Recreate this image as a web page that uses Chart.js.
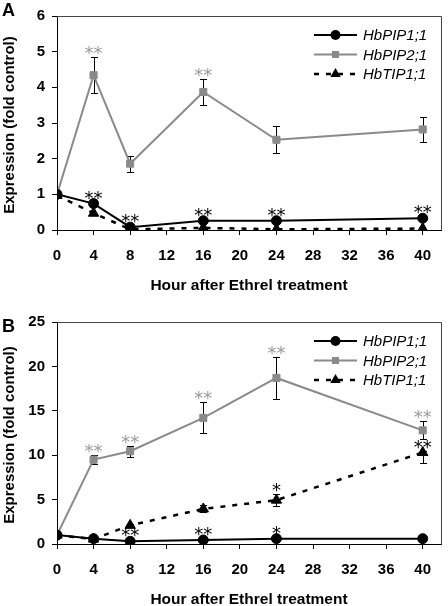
<!DOCTYPE html>
<html>
<head>
<meta charset="utf-8">
<script src="https://cdn.jsdelivr.net/npm/chart.js@4.4.1/dist/chart.umd.min.js"></script>
<style>
  body { margin: 0; background: #fff; }
  canvas { display: block; }
</style>
</head>
<body>
<canvas id="chartA" width="448" height="300"></canvas>
<canvas id="chartB" width="448" height="306"></canvas>
<script>
// sampling times (h)
const hours = [0, 4, 8, 16, 24, 40];
const seriesNames = ["HbPIP1;1", "HbPIP2;1", "HbTIP1;1"];

// panel A values (fold control)
const pip1A = [1.0, 0.74, 0.08, 0.26, 0.26, 0.33];
const pip2A = [1.0, 4.34, 1.86, 3.87, 2.53, 2.82];
const tip1A = [0.97, 0.47, 0.02, 0.06, 0.02, 0.04];
// error bars A
const pip1AErr = [0, 0, 0, 0, 0, 0];
const pip2AErr = [0, 0.5, 0.22, 0.37, 0.38, 0.36];
const tip1AErr = [0, 0, 0, 0, 0, 0];
// significance marks A
const pip1AStars = ["", "**", "**", "**", "**", "**"];
const pip2AStars = ["", "**", "", "**", "", ""];
const tip1AStars = ["", "", "", "", "", ""];

// panel B values (fold control)
const pip1B = [1.0, 0.6, 0.3, 0.45, 0.6, 0.6];
const pip2B = [1.0, 9.5, 10.45, 14.2, 18.7, 12.8];
const tip1B = [1.0, 0.55, 2.1, 3.95, 4.94, 10.3];
// error bars B
const pip1BErr = [0, 0, 0, 0, 0, 0];
const pip2BErr = [0, 0.5, 0.6, 1.75, 2.4, 1.0];
const tip1BErrUp = [0, 0, 0.2, 0.4, 0.65, 0.2];
const tip1BErrDown = [0, 0, 0.2, 0.4, 0.65, 1.2];
// significance marks B
const pip1BStars = ["", "", "**", "**", "*", ""];
const pip2BStars = ["", "**", "**", "**", "**", "**"];
const tip1BStars = ["", "", "", "", "*", "**"];

const GRAY = "#8a8a8a";
const FONT = '"Liberation Sans", Arial, sans-serif';

//error bars, asterisks, legend, frame and titles
const extras = {
  id: "extras",
  beforeDatasetsDraw(chart, args, opts) {
    const { ctx, scales: { x, y } } = chart;
    ctx.save();
    ctx.strokeStyle = "#000";
    ctx.lineWidth = 1;
    chart.data.datasets.forEach((ds, i) => {
      ds.data.forEach((p, j) => {
        const hi = opts.errUp[i][j], lo = opts.errDown[i][j];
        if (!hi && !lo) return;
        const px = Math.round(x.getPixelForValue(p.x)) + 0.5;
        const y1 = Math.round(y.getPixelForValue(p.y + hi)) + 0.5;
        const y2 = Math.round(y.getPixelForValue(p.y - lo)) + 0.5;
        ctx.beginPath();
        ctx.moveTo(px, y1); ctx.lineTo(px, y2);
        ctx.moveTo(px - 3.5, y1); ctx.lineTo(px + 3.5, y1);
        ctx.moveTo(px - 3.5, y2); ctx.lineTo(px + 3.5, y2);
        ctx.stroke();
      });
    });
    ctx.restore();
  },
  afterDatasetsDraw(chart, args, opts) {
    const { ctx, chartArea: a, scales: { x, y } } = chart;
    ctx.save();
    //plot frame top and right
    ctx.strokeStyle = "#444";
    ctx.lineWidth = 1;
    ctx.beginPath();
    ctx.moveTo(a.left, a.top + 0.5); ctx.lineTo(a.right + 0.5, a.top + 0.5); ctx.lineTo(a.right + 0.5, a.bottom);
    ctx.stroke();
    //asterisks
    ctx.font = '18px "DejaVu Sans", sans-serif';
    ctx.textAlign = "center";
    ctx.textBaseline = "alphabetic";
    chart.data.datasets.forEach((ds, i) => {
      ctx.fillStyle = opts.starColors[i];
      ds.data.forEach((p, j) => {
        const s = opts.stars[i][j];
        if (!s) return;
        const cy = Math.min(y.getPixelForValue(p.y) - 10, y.getPixelForValue(p.y + opts.errUp[i][j]) - 8);
        ctx.fillText(s, x.getPixelForValue(p.x), cy + 10);
      });
    });
    //legend
    ctx.font = "italic 15px " + FONT;
    ctx.textAlign = "left";
    ctx.textBaseline = "middle";
    chart.data.datasets.forEach((ds, i) => {
      const ly = a.top + 19 + i * 19.5;
      const x0 = a.right - 127, x1 = a.right - 84, xm = (x0 + x1) / 2;
      ctx.strokeStyle = ds.borderColor;
      ctx.lineWidth = ds.borderWidth;
      ctx.setLineDash(ds.borderDash || []);
      ctx.beginPath(); ctx.moveTo(x0, ly); ctx.lineTo(x1, ly); ctx.stroke();
      ctx.setLineDash([]);
      ctx.fillStyle = ds.backgroundColor;
      ctx.beginPath();
      if (ds.pointStyle === "circle") ctx.arc(xm, ly, 5, 0, Math.PI * 2);
      else if (ds.pointStyle === "rect") ctx.rect(xm - 3.5, ly - 3.5, 7, 7);
      else { ctx.moveTo(xm, ly - 6); ctx.lineTo(xm + 5.2, ly + 3); ctx.lineTo(xm - 5.2, ly + 3); ctx.closePath(); }
      ctx.fill();
      ctx.fillStyle = "#000";
      ctx.fillText(ds.label, a.right - 78, ly + 1);
    });
    ctx.restore();
  },
  afterDraw(chart, args, opts) {
    const { ctx, chartArea: a } = chart;
    ctx.save();
    ctx.fillStyle = "#000";
    ctx.font = "bold 18px " + FONT;
    ctx.textAlign = "left";
    ctx.textBaseline = "middle";
    ctx.fillText(opts.letter, 2, opts.letterY);
    ctx.font = "bold 15.5px " + FONT;
    ctx.textAlign = "center";
    ctx.fillText("Hour after Ethrel treatment", (a.left + a.right) / 2, a.bottom + 56);
    ctx.font = "bold 15px " + FONT;
    ctx.translate(10, (a.top + a.bottom) / 2 + 2);
    ctx.rotate(-Math.PI / 2);
    ctx.fillText("Expression (fold control)", 0, 0);
    ctx.restore();
  }
};

const toPoints = (vals) => hours.map((h, i) => ({ x: h, y: vals[i] }));

function makeDatasets(p1, p2, t1) {
  return [
    { label: seriesNames[0], data: toPoints(p1), borderColor: "#000", backgroundColor: "#000",
      borderWidth: 2, pointStyle: "circle", pointRadius: 5, pointBorderWidth: 1 },
    { label: seriesNames[1], data: toPoints(p2), borderColor: GRAY, backgroundColor: GRAY,
      borderWidth: 2, pointStyle: "rect", pointRadius: 5, pointBorderWidth: 1 },
    { label: seriesNames[2], data: toPoints(t1), borderColor: "#000", backgroundColor: "#000",
      borderWidth: 2.5, borderDash: [5, 7], pointStyle: "triangle", pointRadius: 6, pointBorderWidth: 1 },
  ];
}

function makeChart(id, datasets, ymax, ystep, top, xh, extraOpts) {
  const tickFont = { family: FONT, size: 15, weight: "bold" };
  return new Chart(document.getElementById(id), {
    type: "line",
    data: { datasets: datasets },
    options: {
      responsive: false,
      animation: false,
      layout: { padding: { top: top, right: 2, left: 0, bottom: 0 } },
      plugins: {
        legend: { display: false },
        tooltip: { enabled: false },
        extras: extraOpts,
      },
      scales: {
        x: {
          type: "linear", min: 0, max: 42,
          ticks: { stepSize: 4, includeBounds: false, color: "#000", font: tickFont, padding: 12, maxRotation: 0 },
          grid: { drawOnChartArea: false, color: "#000", tickLength: 5 },
          border: { color: "#000" },
          afterFit(s) { s.height = xh; },
        },
        y: {
          min: 0, max: ymax,
          ticks: { stepSize: ystep, color: "#000", font: tickFont, padding: 7 },
          grid: { drawOnChartArea: false, color: "#000", tickLength: 5 },
          border: { color: "#000" },
          afterFit(s) { s.width = 57; },
        },
      },
    },
    plugins: [extras],
  });
}

makeChart("chartA", makeDatasets(pip1A, pip2A, tip1A), 6, 1, 8, 70, {
  letter: "A", letterY: 11,
  errUp: [pip1AErr, pip2AErr, tip1AErr],
  errDown: [pip1AErr, pip2AErr, tip1AErr],
  stars: [pip1AStars, pip2AStars, tip1AStars],
  starColors: ["#000", "#9a9a9a", "#000"],
});

makeChart("chartB", makeDatasets(pip1B, pip2B, tip1B), 25, 5, 22, 62, {
  letter: "B", letterY: 27,
  errUp: [pip1BErr, pip2BErr, tip1BErrUp],
  errDown: [pip1BErr, pip2BErr, tip1BErrDown],
  stars: [pip1BStars, pip2BStars, tip1BStars],
  starColors: ["#000", "#9a9a9a", "#000"],
});
</script>
</body>
</html>
